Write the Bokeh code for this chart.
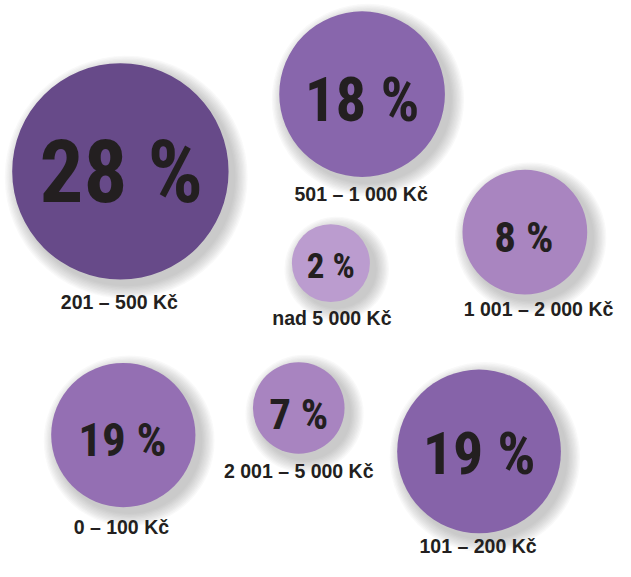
from bokeh.plotting import figure
from bokeh.models import ColumnDataSource, Range1d
from bokeh.embed import file_html
from bokeh.resources import INLINE
from bokeh.core.properties import value

# ---- data ----
shares = [28, 18, 2, 8, 19, 7, 19]
price_ranges = ["201 – 500 Kč", "501 – 1 000 Kč", "nad 5 000 Kč", "1 001 – 2 000 Kč",
                "0 – 100 Kč", "2 001 – 5 000 Kč", "101 – 200 Kč"]
share_labels = [f"{s} %" for s in shares]

# ---- layout (reference pixel space) ----
bubble_x = [123, 371, 339, 538, 126, 306, 491]
bubble_y = [177, 97, 272, 240, 450, 422, 467]
bubble_r = [111, 85, 40, 64, 74, 47, 84]
bubble_colors = ["#674a89", "#8866ac", "#bb9ccf", "#a985c0", "#946fb3", "#a884c0", "#8663a9"]
num_x = [124, 371, 339, 537, 125, 306, 491]
num_mid = [178, 103, 275, 245, 455, 428, 469]
num_size = ["87px", "61px", "35px", "43px", "47px", "43px", "60px"]
lab_x = [122, 370, 340, 552, 124, 306, 490]
lab_mid = [312, 200, 329, 320, 545, 487, 565]

W, H = 615, 561
p = figure(width=W, height=H, output_backend="svg", toolbar_location=None,
           x_range=Range1d(0, 631), y_range=Range1d(581, 0),
           min_border=0, outline_line_color=None, background_fill_color="white")
p.axis.visible = False
p.grid.visible = False

# soft shadows
for i in range(10):
    sh = ColumnDataSource(dict(x=[x + 6 for x in bubble_x], y=[y + 6 for y in bubble_y],
                               r=[r + 1 + i * 1.4 for r in bubble_r]))
    p.circle("x", "y", radius="r", source=sh, fill_color="#7a7a7a", fill_alpha=0.045,
             line_color=None)

src = ColumnDataSource(dict(x=bubble_x, y=bubble_y, r=bubble_r, c=bubble_colors,
                            nx=num_x, ny=num_mid, ns=num_size, t=share_labels,
                            lx=lab_x, ly=lab_mid, lt=price_ranges))
p.circle("x", "y", radius="r", source=src, fill_color="c", line_color=None)

p.text("nx", "ny", text="t", source=src,
       text_font=value("Roboto Condensed, DejaVu Sans Condensed, Liberation Sans"),
       text_font_style="bold", text_font_size="ns", text_color="#231f20",
       text_align="center", text_baseline="middle")
p.text("lx", "ly", text="lt", source=src, text_font=value("Liberation Sans"),
       text_font_style="bold", text_font_size="19.5px", text_color="#231f20",
       text_align="center", text_baseline="middle")

open("out.html", "w").write(file_html(p, INLINE))
